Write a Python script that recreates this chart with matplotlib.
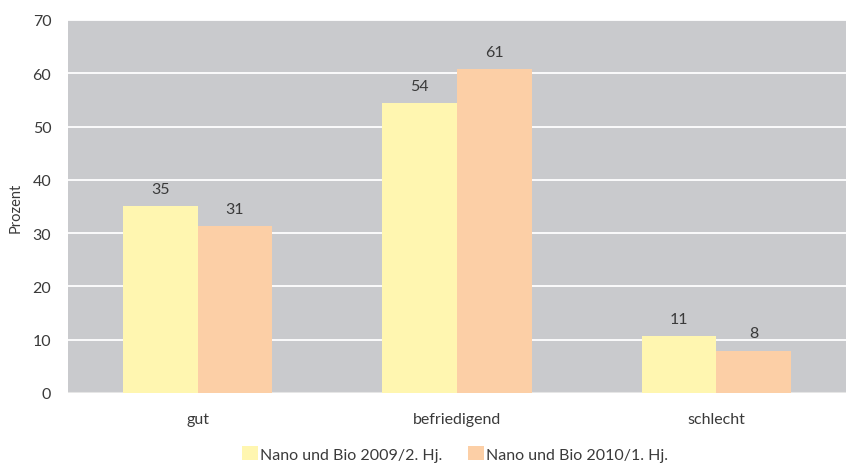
import matplotlib
matplotlib.use("Agg")
import matplotlib.pyplot as plt
import numpy as np
from matplotlib.patches import Patch

categories = ["gut", "befriedigend", "schlecht"]
series_names = ["Nano und Bio 2009/2. Hj.", "Nano und Bio 2010/1. Hj."]
values_2009 = [35.1, 54.4, 10.7]
values_2010 = [31.3, 60.8, 7.9]
yticks = [0, 10, 20, 30, 40, 50, 60, 70]

colors = ["#FFF6B0", "#FCCFA6"]
bg = "#C9CACD"
text_col = "#3a3a3a"

plt.rcParams["font.family"] = ["Lato", "DejaVu Sans"]

fig = plt.figure(figsize=(8.46, 4.64), dpi=100)
ax = fig.add_axes([68 / 846, 1 - 394 / 464, 778 / 846, 373 / 464])
ax.set_facecolor(bg)

x = np.arange(len(categories))
w = 0.288
b1 = ax.bar(x - w / 2, values_2009, w, color=colors[0], zorder=3)
b2 = ax.bar(x + w / 2, values_2010, w, color=colors[1], zorder=3)

for bars, vals in ((b1, values_2009), (b2, values_2010)):
    for rect, v in zip(bars, vals):
        ax.annotate(f"{v:.0f}", (rect.get_x() + rect.get_width() / 2, v),
                    xytext=(0, 7.5), textcoords="offset points",
                    ha="center", va="bottom", fontsize=11.5, color=text_col)

ax.set_xlim(-0.5, 2.5)
ax.set_ylim(0, 70)
ax.set_yticks(yticks)
ax.yaxis.grid(True, color="white", linewidth=1.3, zorder=1)
ax.set_axisbelow(True)
for s in ax.spines.values():
    s.set_visible(False)
ax.axhline(0, color="#e6e6e6", linewidth=1.5, zorder=2)

ax.set_xticks(x)
ax.set_xticklabels(categories)
ax.tick_params(axis="both", length=0, labelsize=11.5, colors=text_col)
ax.tick_params(axis="x", pad=14)
ax.tick_params(axis="y", pad=12)
ax.set_ylabel("Prozent", fontsize=10.5, color=text_col, labelpad=7)

handles = [Patch(facecolor=c, edgecolor="none") for c in colors]
fig.legend(handles, series_names, loc="center", bbox_to_anchor=(0.538, 1 - 455 / 464),
           ncol=2, frameon=False, fontsize=11.5, handlelength=1.0, handleheight=1.0,
           handletextpad=0.15, columnspacing=1.6, labelcolor=text_col)

fig.savefig("out.png", dpi=100, facecolor="white")
